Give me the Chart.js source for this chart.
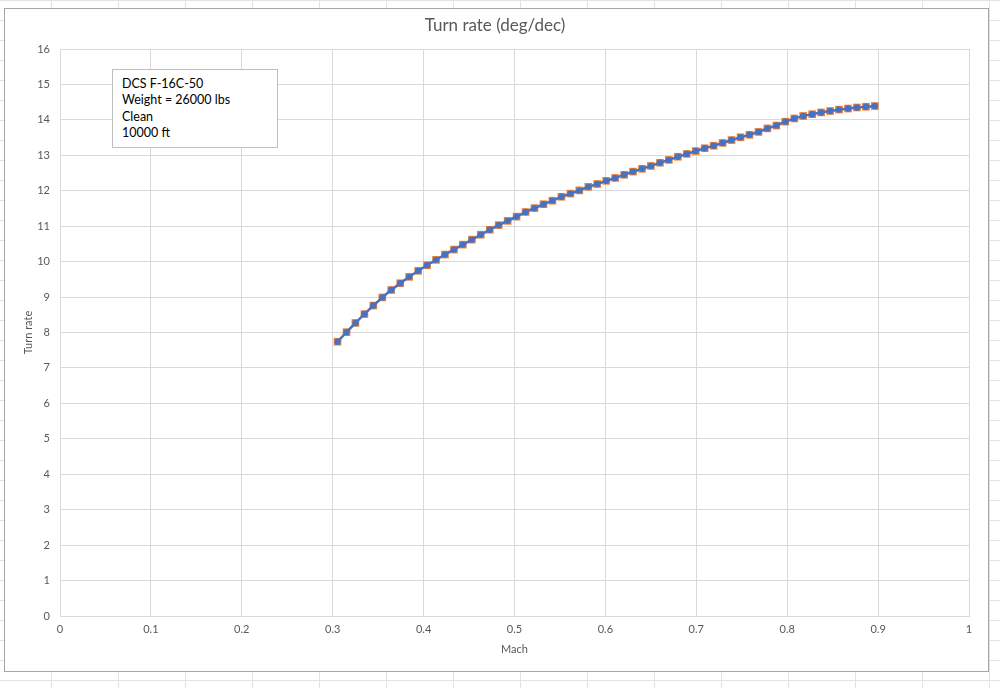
<!DOCTYPE html>
<html>
<head>
<meta charset="utf-8">
<script src="https://cdn.jsdelivr.net/npm/chart.js@4.4.0/dist/chart.umd.min.js"></script>
<style>
  html, body { margin: 0; padding: 0; }
  body {
    width: 1000px; height: 688px; position: relative; overflow: hidden;
    background-color: #ffffff;
    background-image:
      linear-gradient(to right, #e2e2e2 1px, transparent 1px),
      linear-gradient(to bottom, #e2e2e2 1px, transparent 1px);
    background-size: 67px 20px, 67px 20px;
    background-position: 51px 0, 0 0;
  }
  #frame {
    position: absolute; left: 4px; top: 8px; width: 983px; height: 662px;
    background: #ffffff; border: 1px solid #a6a6a6;
  }
  #wrap { position: absolute; left: 0; top: 0; width: 1000px; height: 688px; }
  #title {
    position: absolute; left: 0; top: 14px; width: 990px; text-align: center;
    font-family: Lato, "Open Sans", sans-serif; font-size: 17px; color: #595959;
  }
  #note {
    position: absolute; left: 112px; top: 69px; width: 166px; height: 79px;
    border: 1px solid #bfbfbf; background: #ffffff; box-sizing: border-box;
    font-family: Lato, "Open Sans", sans-serif; font-size: 12.5px; color: #000000;
    line-height: 16.3px; padding: 6px 0 0 9px;
  }
</style>
</head>
<body>
<div id="frame"></div>
<div id="wrap"><canvas id="c" width="1000" height="688"></canvas></div>
<div id="title">Turn rate (deg/dec)</div>
<div id="note"></div>
<script>
const chartTitle = "Turn rate (deg/dec)";
const noteLines = ["DCS F-16C-50", "Weight = 26000 lbs", "Clean", "10000 ft"];
const xAxisTitle = "Mach";
const yAxisTitle = "Turn rate";
const xTickLabels = ["0","0.1","0.2","0.3","0.4","0.5","0.6","0.7","0.8","0.9","1"];
const yTickLabels = ["0","1","2","3","4","5","6","7","8","9","10","11","12","13","14","15","16"];

const machValues = [
  0.3053,0.3152,0.3250,0.3349,0.3447,0.3546,0.3644,0.3743,0.3841,0.3940,
  0.4038,0.4137,0.4235,0.4334,0.4432,0.4531,0.4629,0.4728,0.4826,0.4925,
  0.5023,0.5122,0.5220,0.5319,0.5417,0.5516,0.5615,0.5713,0.5812,0.5910,
  0.6009,0.6107,0.6206,0.6304,0.6403,0.6501,0.6600,0.6698,0.6797,0.6895,
  0.6994,0.7092,0.7191,0.7289,0.7388,0.7487,0.7585,0.7684,0.7782,0.7881,
  0.7979,0.8078,0.8176,0.8275,0.8373,0.8472,0.8570,0.8669,0.8767,0.8866,
  0.8964
];
const turnRateBlue = [
  7.74,8.01,8.27,8.52,8.76,8.99,9.20,9.39,9.57,9.74,
  9.90,10.05,10.20,10.34,10.48,10.62,10.76,10.90,11.03,11.15,
  11.27,11.40,11.51,11.62,11.72,11.83,11.92,12.01,12.11,12.19,
  12.28,12.36,12.45,12.54,12.62,12.70,12.79,12.87,12.96,13.04,
  13.12,13.20,13.27,13.35,13.43,13.51,13.58,13.66,13.76,13.84,
  13.95,14.04,14.11,14.16,14.21,14.25,14.29,14.32,14.35,14.37,
  14.39
];
const turnRateOrange = [
  7.74,8.01,8.27,8.52,8.76,8.99,9.20,9.39,9.57,9.74,
  9.90,10.05,10.20,10.34,10.48,10.62,10.76,10.90,11.03,11.15,
  11.27,11.40,11.51,11.62,11.72,11.83,11.92,12.01,12.11,12.19,
  12.28,12.36,12.45,12.54,12.62,12.70,12.79,12.87,12.96,13.04,
  13.12,13.20,13.27,13.35,13.43,13.51,13.58,13.66,13.76,13.84,
  13.95,14.04,14.11,14.16,14.21,14.25,14.29,14.32,14.35,14.37,
  14.39
];

document.getElementById('title').textContent = chartTitle;
document.getElementById('note').innerHTML = noteLines.map(s => '<div>' + s + '</div>').join('');

const toPts = (xs, ys) => xs.map((x, i) => ({x: x, y: ys[i]}));
const FONT = "Lato, 'Open Sans', sans-serif";

new Chart(document.getElementById('c'), {
  type: 'scatter',
  data: {
    datasets: [
      {
        label: 'Blue', data: toPts(machValues, turnRateBlue), showLine: true,
        borderColor: '#4472C4', backgroundColor: '#4472C4', borderWidth: 2.25,
        pointStyle: 'circle', pointRadius: 3.2, pointBorderWidth: 0, order: 1
      },
      {
        label: 'Orange', data: toPts(machValues, turnRateOrange), showLine: true,
        borderColor: '#ED7D31', backgroundColor: '#ED7D31', borderWidth: 2.25,
        pointStyle: 'rect', pointRadius: 5.4, pointBorderWidth: 0, order: 2
      }
    ]
  },
  options: {
    responsive: false, animation: false, devicePixelRatio: 1,
    layout: { padding: { left: 0, top: 49, right: 31, bottom: 0 } },
    plugins: { legend: { display: false }, tooltip: { enabled: false }, title: { display: false } },
    scales: {
      x: {
        type: 'linear', min: 0, max: 1,
        afterFit: s => { s.height = 72; },
        ticks: { stepSize: 0.1, padding: 7, color: '#595959', font: { family: FONT, size: 11 },
                 maxRotation: 0, autoSkip: false,
                 callback: (v, i) => xTickLabels[i] },
        grid: { color: '#d9d9d9', lineWidth: 1, drawTicks: false },
        border: { color: '#d9d9d9' },
        title: { display: true, text: xAxisTitle, color: '#595959', font: { family: FONT, size: 11 },
                 padding: { top: 0, bottom: 32.4 } }
      },
      y: {
        type: 'linear', min: 0, max: 16,
        afterFit: s => { s.width = 60; },
        ticks: { stepSize: 1, padding: 10, color: '#595959', font: { family: FONT, size: 11 },
                 autoSkip: false, callback: (v, i) => yTickLabels[i] },
        grid: { color: '#d9d9d9', lineWidth: 1, drawTicks: false },
        border: { color: '#d9d9d9' },
        title: { display: true, text: yAxisTitle, color: '#595959', font: { family: FONT, size: 11 },
                 padding: { top: 21.4, bottom: 0 } }
      }
    }
  }
});
</script>
</body>
</html>
